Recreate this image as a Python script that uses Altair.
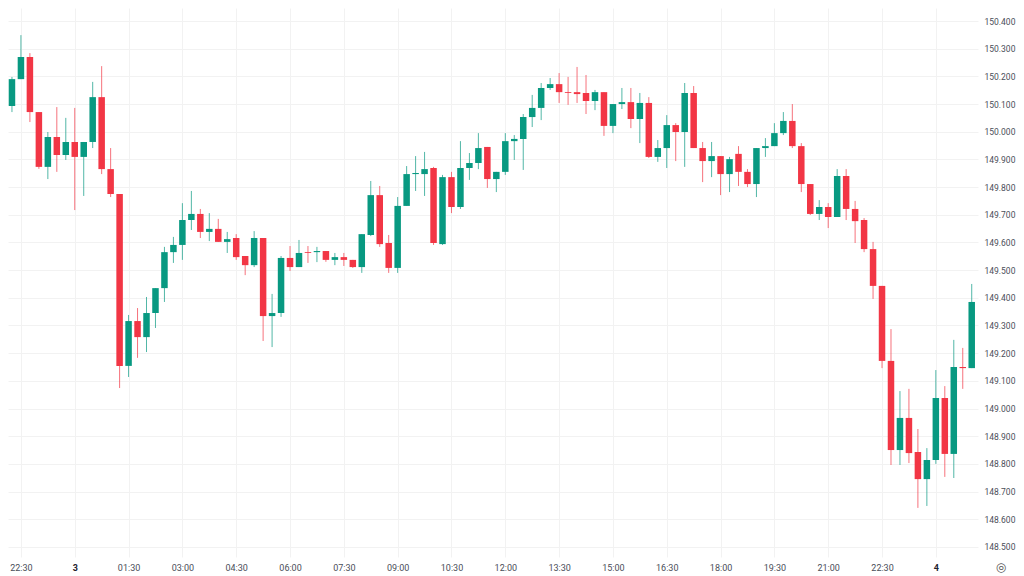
import altair as alt
import pandas as pd

# 15-minute candles, from 22:00 on the 2nd to 01:00 on the 4th
start_time = "2023-11-02T22:00:00"
opens = [150.129, 150.093, 150.190, 150.270, 150.071, 149.873, 149.981, 149.916, 149.963, 149.909,
         149.963, 150.125, 149.865, 149.775, 149.154, 149.316, 149.258, 149.345, 149.435, 149.565,
         149.591, 149.681, 149.703, 149.638, 149.649, 149.602, 149.616, 149.551, 149.518, 149.616,
         149.334, 149.345, 149.544, 149.511, 149.565, 149.565, 149.569, 149.537, 149.547, 149.537,
         149.511, 149.627, 149.771, 149.598, 149.508, 149.732, 149.847, 149.847, 149.869, 149.594,
         149.836, 149.728, 149.869, 149.887, 149.945, 149.829, 149.855, 149.966, 149.974, 150.053,
         150.086, 150.158, 150.172, 150.143, 150.143, 150.140, 150.111, 150.143, 150.021, 150.100,
         150.107, 150.046, 150.104, 149.909, 149.941, 150.024, 149.999, 150.140, 149.941, 149.894,
         149.912, 149.847, 149.920, 149.855, 149.811, 149.941, 149.948, 149.995, 150.039, 149.948,
         149.811, 149.703, 149.728, 149.692, 149.840, 149.721, 149.681, 149.576, 149.443, 149.172,
         148.850, 148.966, 148.843, 148.745, 148.814, 149.038, 148.836, 149.150, 149.146]
highs = [150.198, 150.198, 150.349, 150.284, 150.071, 149.999, 150.089, 150.050, 150.086, 149.963,
         150.180, 150.237, 149.941, 149.775, 149.338, 149.363, 149.403, 149.435, 149.584, 149.620,
         149.742, 149.786, 149.721, 149.706, 149.685, 149.638, 149.630, 149.551, 149.641, 149.616,
         149.414, 149.551, 149.587, 149.609, 149.587, 149.584, 149.569, 149.562, 149.562, 149.537,
         149.630, 149.822, 149.804, 149.627, 149.764, 149.876, 149.912, 149.927, 149.873, 149.844,
         149.855, 149.966, 149.923, 149.995, 149.945, 149.855, 149.995, 149.988, 150.064, 150.133,
         150.176, 150.194, 150.212, 150.198, 150.234, 150.205, 150.151, 150.143, 150.100, 150.158,
         150.158, 150.140, 150.125, 149.970, 150.060, 150.031, 150.176, 150.165, 149.963, 149.963,
         149.912, 149.909, 149.948, 149.865, 149.941, 149.977, 150.031, 150.071, 150.100, 149.959,
         149.811, 149.753, 149.742, 149.865, 149.865, 149.750, 149.688, 149.602, 149.443, 149.287,
         149.063, 149.071, 148.926, 148.857, 149.139, 149.081, 149.248, 149.219, 149.450]
lows = [150.078, 150.071, 150.190, 150.035, 149.866, 149.829, 149.855, 149.898, 149.717, 149.768,
        149.941, 149.847, 149.764, 149.074, 149.114, 149.183, 149.204, 149.291, 149.385, 149.526,
        149.537, 149.645, 149.616, 149.605, 149.602, 149.562, 149.537, 149.482, 149.511, 149.244,
        149.222, 149.331, 149.497, 149.511, 149.526, 149.529, 149.530, 149.518, 149.515, 149.508,
        149.490, 149.623, 149.584, 149.490, 149.490, 149.732, 149.786, 149.768, 149.591, 149.591,
        149.706, 149.721, 149.826, 149.865, 149.797, 149.782, 149.844, 149.898, 149.862, 150.017,
        150.042, 150.151, 150.104, 150.097, 150.104, 150.064, 150.078, 149.985, 149.995, 150.082,
        150.013, 149.959, 149.905, 149.891, 149.869, 149.894, 149.873, 149.941, 149.818, 149.836,
        149.771, 149.782, 149.804, 149.800, 149.764, 149.909, 149.948, 149.988, 149.941, 149.782,
        149.699, 149.681, 149.652, 149.692, 149.681, 149.598, 149.565, 149.396, 149.146, 148.796,
        148.796, 148.803, 148.641, 148.648, 148.800, 148.753, 148.749, 149.071, 149.146]
closes = [150.093, 150.190, 150.270, 150.071, 149.873, 149.981, 149.916, 149.963, 149.909, 149.963,
          150.125, 149.865, 149.775, 149.154, 149.316, 149.258, 149.345, 149.435, 149.565, 149.591,
          149.681, 149.703, 149.638, 149.649, 149.602, 149.612, 149.547, 149.518, 149.616, 149.334,
          149.345, 149.544, 149.511, 149.562, 149.562, 149.569, 149.537, 149.547, 149.537, 149.511,
          149.630, 149.771, 149.594, 149.508, 149.732, 149.847, 149.851, 149.865, 149.598, 149.836,
          149.728, 149.869, 149.887, 149.941, 149.829, 149.855, 149.966, 149.974, 150.053, 150.086,
          150.158, 150.172, 150.143, 150.140, 150.136, 150.111, 150.143, 150.021, 150.100, 150.107,
          150.046, 150.104, 149.909, 149.941, 150.024, 149.999, 150.140, 149.941, 149.894, 149.912,
          149.847, 149.901, 149.855, 149.811, 149.941, 149.948, 149.995, 150.039, 149.948, 149.811,
          149.703, 149.728, 149.692, 149.840, 149.721, 149.677, 149.576, 149.443, 149.172, 148.850,
          148.966, 148.839, 148.745, 148.814, 149.038, 148.836, 149.150, 149.146, 149.385]

tick_times = ["2023-11-02T22:30:00", "2023-11-03T00:00:00", "2023-11-03T01:30:00",
              "2023-11-03T03:00:00", "2023-11-03T04:30:00", "2023-11-03T06:00:00",
              "2023-11-03T07:30:00", "2023-11-03T09:00:00", "2023-11-03T10:30:00",
              "2023-11-03T12:00:00", "2023-11-03T13:30:00", "2023-11-03T15:00:00",
              "2023-11-03T16:30:00", "2023-11-03T18:00:00", "2023-11-03T19:30:00",
              "2023-11-03T21:00:00", "2023-11-03T22:30:00", "2023-11-04T00:00:00"]
price_ticks = [148.5, 148.6, 148.7, 148.8, 148.9, 149.0, 149.1, 149.2, 149.3, 149.4,
               149.5, 149.6, 149.7, 149.8, 149.9, 150.0, 150.1, 150.2, 150.3, 150.4]

UP = "#089981"
DOWN = "#f23645"
GRID = "#f2f2f2"
TEXT = "#4a4e59"

times = pd.date_range(start_time, periods=len(opens), freq="15min")
df = pd.DataFrame({
    "time": times.strftime("%Y-%m-%dT%H:%M:%S"),
    "open": opens, "high": highs, "low": lows, "close": closes,
})
df["body_lo"] = df[["open", "close"]].min(axis=1)
df["body_hi"] = df[["open", "close"]].max(axis=1)
df["dir"] = ["up" if c >= o else "down" for o, c in zip(opens, closes)]


def dt(s):
    t = pd.Timestamp(s)
    return alt.DateTime(year=t.year, month=t.month, date=t.day,
                        hours=t.hour, minutes=t.minute, seconds=t.second)


x_dom = [dt("2023-11-02T22:08:22"), dt("2023-11-04T01:10:30")]
midnight = "hours(datum.value) == 0 && minutes(datum.value) == 0"

x_enc = alt.X(
    "time:T",
    scale=alt.Scale(domain=x_dom, nice=False, padding=0),
    axis=alt.Axis(
        values=[dt(s) for s in tick_times],
        labelExpr="(" + midnight + ") ? ('' + date(datum.value)) : timeFormat(datum.value, '%H:%M')",
        labelFontWeight={"condition": {"test": midnight, "value": "bold"}, "value": "normal"},
        labelColor={"condition": {"test": midnight, "value": "#1e222d"}, "value": TEXT},
        grid=True, gridColor=GRID, gridWidth=1,
        ticks=False, domain=False, labelPadding=6,
        labelFontSize=9, labelFont="Roboto",
        title=None, labelFlush=False, labelOverlap=False,
    ),
)
y_scale = alt.Scale(domain=[148.4636, 150.447], nice=False, zero=False, padding=0)
y_axis = alt.Axis(
    orient="right", values=price_ticks, format=".3f",
    grid=True, gridColor=GRID, gridWidth=1,
    ticks=False, domain=False, labelPadding=6, labelOverlap=False, labelFlush=False,
    labelFontSize=8.5, labelColor=TEXT, labelFont="Roboto", title=None,
)
color_enc = alt.Color("dir:N", scale=alt.Scale(domain=["up", "down"], range=[UP, DOWN]), legend=None)

base = alt.Chart(df).encode(x=x_enc)

wicks = base.mark_rule(strokeWidth=1, opacity=0.7, clip=True).encode(
    y=alt.Y("low:Q", scale=y_scale, axis=y_axis),
    y2="high:Q",
    color=color_enc,
)
bodies = base.mark_bar(size=6.5, clip=True).encode(
    y=alt.Y("body_lo:Q", scale=y_scale, axis=y_axis),
    y2="body_hi:Q",
    color=color_enc,
)
icon = alt.Chart(pd.DataFrame({"t": ["◎"]})).mark_text(
    fontSize=12, color="#555", font="DejaVu Sans"
).encode(x=alt.value(993), y=alt.value(559), text="t:N")

chart = alt.layer(wicks, bodies, icon).properties(
    width=970, height=549,
    padding={"left": 0, "top": 0, "right": 38, "bottom": 19},
    autosize=alt.AutoSizeParams(type="none"),
).configure_view(stroke=None)

chart.save("out.html", embed_options={"renderer": "svg", "actions": False})
